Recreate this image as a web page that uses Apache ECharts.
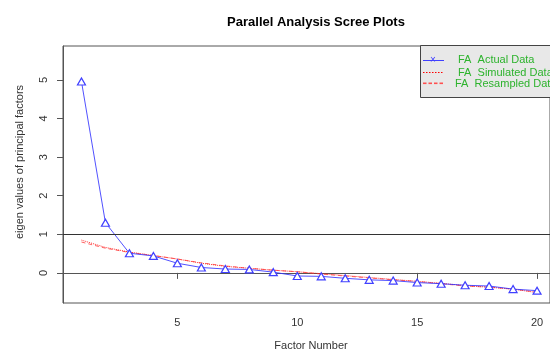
<!DOCTYPE html>
<html>
<head>
<meta charset="utf-8">
<script src="https://cdn.jsdelivr.net/npm/echarts@6/dist/echarts.min.js"></script>
<style>html,body{margin:0;padding:0;background:#fff}#c{width:550px;height:354px}</style>
</head>
<body>
<div id="c"></div>
<script>
var factors = [1,2,3,4,5,6,7,8,9,10,11,12,13,14,15,16,17,18,19,20];
var actualData = [4.96,1.30,0.51,0.44,0.25,0.14,0.10,0.09,0.02,-0.08,-0.09,-0.14,-0.18,-0.20,-0.25,-0.28,-0.32,-0.34,-0.42,-0.46];
var simulatedData = [0.85,0.66,0.54,0.45,0.36,0.25,0.17,0.12,0.07,0.03,-0.02,-0.07,-0.12,-0.17,-0.22,-0.27,-0.33,-0.37,-0.42,-0.51];
var resampledData = [0.80,0.64,0.53,0.45,0.36,0.26,0.18,0.12,0.07,0.03,-0.03,-0.08,-0.13,-0.18,-0.22,-0.28,-0.34,-0.37,-0.42,-0.50];
var xTicks = [5,10,15,20];
var yTicks = [0,1,2,3,4,5];
var legendNames = ['FA  Actual Data','FA  Simulated Data','FA  Resampled Data'];

function pairs(vals){ return factors.map(function(f,i){ return [f, vals[i]]; }); }
var FONT = '"Liberation Sans", Arial, sans-serif';
var dashSegs = [0,1,2,3].map(function(k){
  return {type:'rect', shape:{x:423 + k*5.5, y:82.5, width:3.5, height:1.6}, style:{fill:'#ff5050'}, z:12};
});
var chart = echarts.init(document.getElementById('c'), null, {renderer:'canvas'});
chart.setOption({
  animation:false,
  backgroundColor:'#fff',
  title:{text:'Parallel Analysis Scree Plots', left:311, textAlign:'center', top:11,
    textStyle:{fontFamily:FONT, fontSize:13, fontWeight:'bold', color:'#000'}},
  grid:{left:63, top:46, width:490, height:257, show:true, borderColor:'#555', borderWidth:1, backgroundColor:'transparent'},
  xAxis:{type:'value', min:0.23, max:20.54,
    axisLine:{show:true, lineStyle:{color:'#555'}},
    axisTick:{show:true, length:6, customValues:xTicks, lineStyle:{color:'#555'}},
    axisLabel:{customValues:xTicks, margin:14, fontFamily:FONT, fontSize:11, color:'#333'},
    splitLine:{show:false}},
  yAxis:{type:'value', min:-0.78, max:5.88,
    axisLine:{show:true, lineStyle:{color:'#555'}},
    axisTick:{show:true, length:6, customValues:yTicks, lineStyle:{color:'#555'}},
    axisLabel:{customValues:yTicks, rotate:90, margin:14, fontFamily:FONT, fontSize:11, color:'#333'},
    splitLine:{show:false}},
  series:[
    {name:legendNames[1], type:'line', data:pairs(simulatedData), symbol:'none',
      lineStyle:{color:'#ff0000', width:1, type:'dotted', opacity:0.8}},
    {name:legendNames[2], type:'line', data:pairs(resampledData), symbol:'none',
      lineStyle:{color:'#ff3333', width:1, type:[4,3], opacity:0.75}},
    {name:legendNames[0], type:'line', data:pairs(actualData), symbol:'triangle', symbolSize:[8,7],
      lineStyle:{color:'#3333ff', width:1, opacity:0.85},
      itemStyle:{color:'#fff', borderColor:'#4040ff', borderWidth:1.2},
      markLine:{silent:true, symbol:'none', label:{show:false},
        lineStyle:{color:'#333', type:'solid', width:1}, data:[{yAxis:1}]}}
  ],
  graphic:[
    {type:'text', x:20, y:162, rotation:Math.PI/2,
      style:{text:'eigen values of principal factors', font:'11px '+FONT, fill:'#333', textAlign:'center', textVerticalAlign:'middle'}},
    {type:'text', x:311, y:346, style:{text:'Factor Number', font:'11px '+FONT, fill:'#333', textAlign:'center', textVerticalAlign:'middle'}},
    {type:'rect', shape:{x:420.5, y:45.5, width:200, height:52}, style:{fill:'#e8e8e8', stroke:'#444', lineWidth:1}, z:10},
    {type:'line', shape:{x1:423, y1:60.5, x2:444, y2:60.5}, style:{stroke:'#4040ff', lineWidth:1}, z:11},
    {type:'text', x:433, y:60, style:{text:'×', font:'10px '+FONT, fill:'#4040ff', textAlign:'center', textVerticalAlign:'middle'}, z:11},
    {type:'polyline', shape:{points:[[423,72.5],[444,72.5]]}, style:{stroke:'rgb(255,0,0)', fill:'none', lineWidth:1, lineDash:[1.5,1.5]}, z:12},
    {type:'text', x:458, y:60, style:{text:legendNames[0], font:'11px '+FONT, fill:'#2db32d', textVerticalAlign:'middle'}, z:11},
    {type:'text', x:458, y:72.5, style:{text:legendNames[1], font:'11px '+FONT, fill:'#2db32d', textVerticalAlign:'middle'}, z:11},
    {type:'text', x:455, y:84, style:{text:legendNames[2], font:'11px '+FONT, fill:'#2db32d', textVerticalAlign:'middle'}, z:11}
  ].concat(dashSegs)
});
</script>
</body>
</html>
